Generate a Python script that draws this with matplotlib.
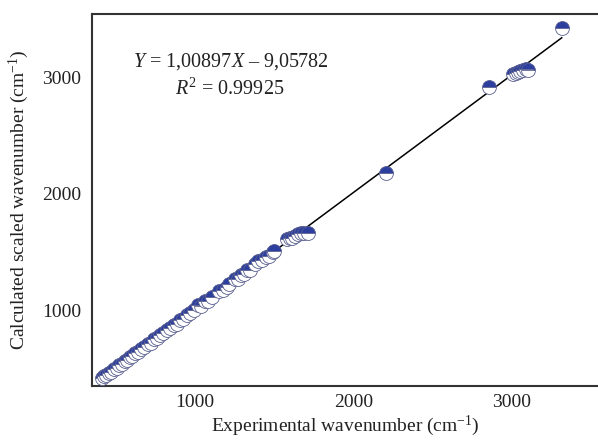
import matplotlib
matplotlib.use("Agg")
import matplotlib.pyplot as plt
import numpy as np

plt.rcParams['font.family'] = ['Liberation Serif', 'DejaVu Serif']
plt.rcParams['mathtext.fontset'] = 'custom'
plt.rcParams['mathtext.rm'] = 'Liberation Serif'
plt.rcParams['mathtext.it'] = 'Liberation Serif:italic'

experimental = [412, 425, 440, 455, 470, 490, 505, 520, 540, 555, 572, 590, 605, 620,
                640, 660, 680, 700, 720, 740, 760, 780, 800, 822, 845, 865, 885, 905,
                925, 950, 970, 995, 1020, 1040, 1060, 1085, 1105, 1150, 1175, 1200,
                1215, 1250, 1270, 1290, 1310, 1330, 1350, 1380, 1400, 1420, 1450, 1470,
                1490, 1500, 1580, 1600, 1615, 1630, 1650, 1670, 1690, 1715,
                2205, 2855, 3010, 3025, 3040, 3055, 3070, 3090, 3100, 3316]
calculated = [420, 432, 445, 462, 470, 498, 505, 530, 540, 565, 570, 600, 605, 632,
              640, 668, 683, 710, 718, 752, 758, 790, 800, 830, 848, 875, 880, 915,
              925, 958, 975, 1000, 1040, 1035, 1075, 1080, 1110, 1165, 1170, 1200,
              1222, 1265, 1268, 1300, 1310, 1345, 1340, 1395, 1420, 1430, 1460, 1465,
              1495, 1505, 1610, 1615, 1620, 1640, 1650, 1665, 1660, 1665,
              2175, 2915, 3025, 3035, 3045, 3050, 3060, 3070, 3060, 3420]
slope = 1.00897
intercept = -9.05782
r2 = 0.99925
xticks = [1000, 2000, 3000]
yticks = [1000, 2000, 3000]

fig = plt.figure(figsize=(5.98, 4.40), dpi=100)
ax = fig.add_axes([0.154, 0.123, 0.846, 0.845])

x_fit = np.array([min(experimental), max(experimental)])
ax.plot(x_fit, slope * x_fit + intercept, color='black', lw=1.1, zorder=2)

ax.plot(experimental, calculated, linestyle='none', marker='o', markersize=10,
        fillstyle='top', markerfacecolor='#2c3e9e', markerfacecoloralt='white',
        markeredgecolor='#5a6090', markeredgewidth=0.6, zorder=3)

ax.set_xlim(350, 3545)
ax.set_ylim(350, 3540)
ax.set_xticks(xticks)
ax.set_yticks(yticks)
ax.tick_params(axis='x', length=0, labelsize=14, pad=6, colors='#222222')
ax.tick_params(axis='y', length=0, labelsize=14, pad=8, colors='#222222')

for s in ['left', 'bottom', 'top']:
    ax.spines[s].set_linewidth(1.5)
    ax.spines[s].set_color('#333333')
ax.spines['right'].set_visible(False)

ax.set_xlabel('Experimental wavenumber (cm$^{-1}$)', fontsize=14, color='#222222', labelpad=2)
ax.set_ylabel('Calculated scaled wavenumber (cm$^{-1}$)', fontsize=14, color='#222222', labelpad=8)

ax.text(0.275, 0.871, '$Y$ = 1,00897$X$ \u2013 9,05782', transform=ax.transAxes,
        ha='center', va='center', fontsize=14.5, color='#222222')
ax.text(0.272, 0.798, '$R^2$ = 0.99925', transform=ax.transAxes,
        ha='center', va='center', fontsize=14.5, color='#222222')

fig.savefig('out.png', dpi=100)
